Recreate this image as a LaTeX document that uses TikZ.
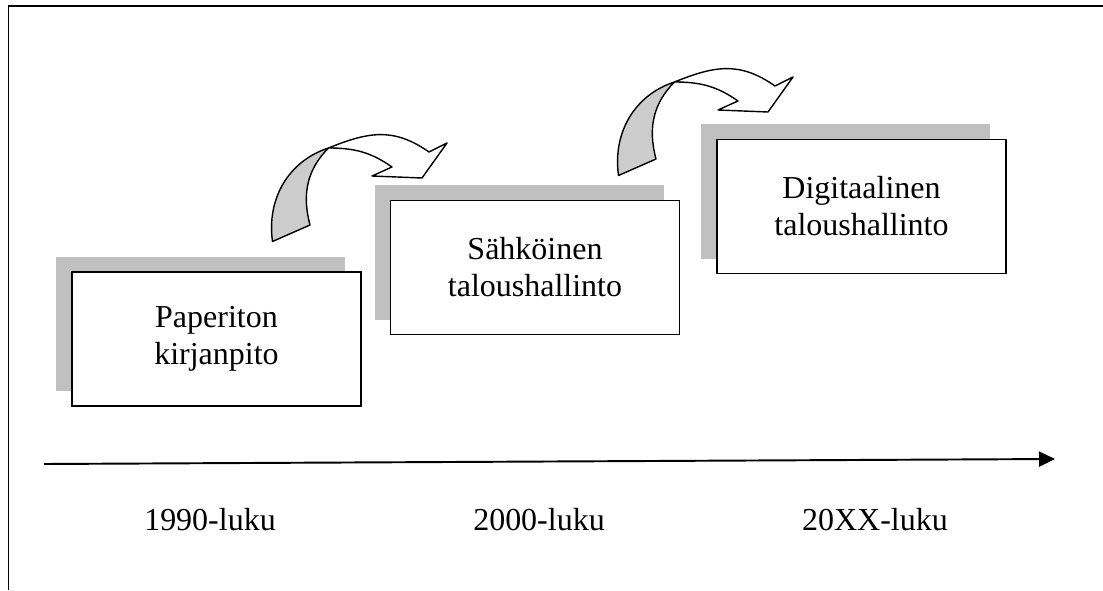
\documentclass[tikz,border=0pt]{standalone}
\usepackage{fontspec}
\setmainfont{Liberation Serif}
\usepackage{tikz}
\usetikzlibrary{arrows.meta,shadows,positioning}
\definecolor{shadowgray}{RGB}{192,192,192}
\definecolor{arrowgray}{RGB}{204,204,204}

\begin{document}
\begin{tikzpicture}[thick,
  era node/.style={rectangle,draw,line width=1.1pt,fill=white,
    minimum width=5.78cm,minimum height=2.68cm,align=center,
    font=\fontsize{18.2}{21}\selectfont,
    drop shadow={shadow xshift=-0.32cm,shadow yshift=0.3cm,fill=shadowgray,opacity=1}},
  year label/.style={anchor=base,font=\fontsize{18.2}{21}\selectfont},
  bend arrow/.style={line width=0.8pt,line join=round}]
          \useasboundingbox (0,0) rectangle (22.06,11.8);
          % frame
          \draw[line width=0.85pt] (0.17,0)--(0.17,11.68)--(22.06,11.68);
          % boxes
          \node[era node] at (4.33,5.02) (paper) {Paperiton\\kirjanpito};
          \node[era node] at (10.70,6.45) (elec) {Sähköinen\\taloushallinto};
          \node[era node] at (17.23,7.67) (digi) {Digitaalinen\\taloushallinto};
          % curved arrow 1
          \draw[bend arrow,fill=arrowgray] (5.45,6.97) to[out=98,in=198] (6.57,8.84)
                to[out=225,in=105] (6.2,7.3) -- cycle;
          \draw[bend arrow,fill=white] (6.57,8.84) to[out=22,in=145,looseness=1.1] (8.58,8.76)
                -- (8.94,8.94) -- (8.44,8.24) -- (7.44,8.28) -- (7.84,8.46)
                to[out=145,in=0] (6.57,8.84) -- cycle;
          % curved arrow 2
          \begin{scope}[shift={(6.92,1.32)}]
          \draw[bend arrow,fill=arrowgray] (5.45,6.97) to[out=98,in=198] (6.57,8.84)
                to[out=225,in=105] (6.2,7.3) -- cycle;
          \draw[bend arrow,fill=white] (6.57,8.84) to[out=22,in=145,looseness=1.1] (8.58,8.76)
                -- (8.94,8.94) -- (8.44,8.24) -- (7.44,8.28) -- (7.84,8.46)
                to[out=145,in=0] (6.57,8.84) -- cycle;
          \end{scope}
          % time axis
          \coordinate (start) at (0.88,2.52);
          \coordinate (end) at (21.1,2.62);
          \draw[line width=1.1pt,-{Triangle[length=0.32cm,width=0.3cm]}] (start)--(end);
          \node[year label] at (4.2,1.2) (y1990) {1990-luku};
          \node[year label] at (10.78,1.2) (y2000) {2000-luku};
          \node[year label] at (17.5,1.2) (y20xx) {20XX-luku};
        \end{tikzpicture}
\end{document}
